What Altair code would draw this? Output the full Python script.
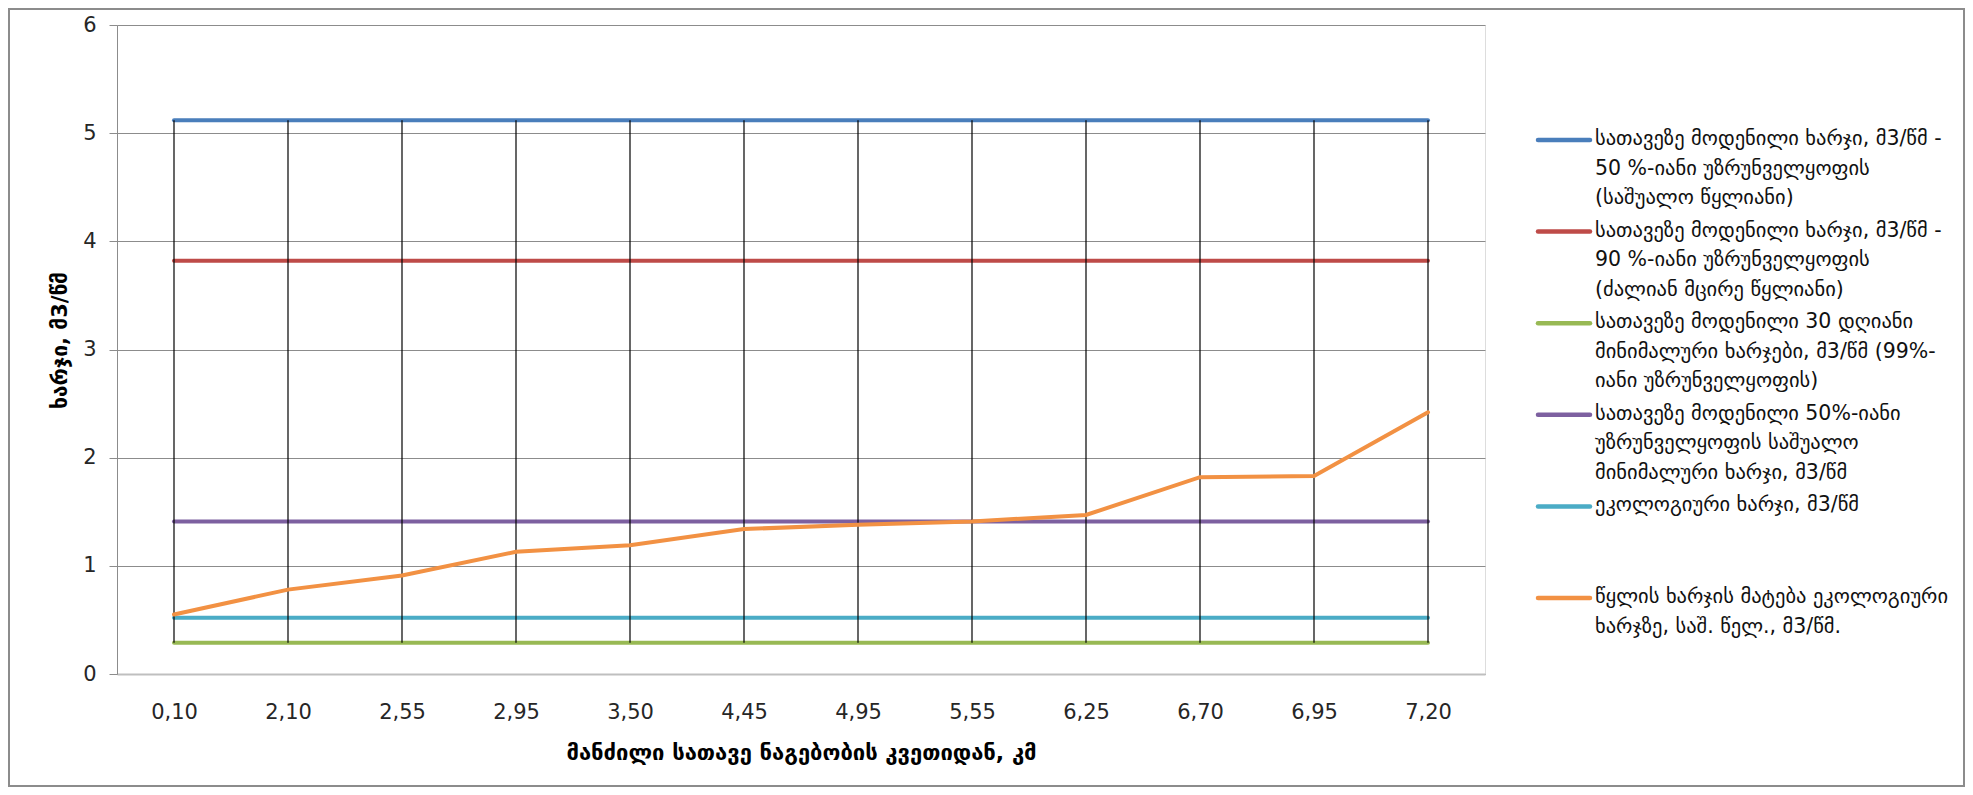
import altair as alt
import pandas as pd

# ---- data ----
categories = ["0,10", "2,10", "2,55", "2,95", "3,50", "4,45",
              "4,95", "5,55", "6,25", "6,70", "6,95", "7,20"]

series_names = [
    "სათავეზე მოდენილი ხარჯი, მ3/წმ -|50 %-იანი უზრუნველყოფის|(საშუალო წყლიანი)",
    "სათავეზე მოდენილი ხარჯი, მ3/წმ -|90 %-იანი უზრუნველყოფის|(ძალიან მცირე წყლიანი)",
    "სათავეზე მოდენილი 30 დღიანი|მინიმალური ხარჯები, მ3/წმ (99%-|იანი უზრუნველყოფის)",
    "სათავეზე მოდენილი 50%-იანი|უზრუნველყოფის საშუალო|მინიმალური ხარჯი, მ3/წმ",
    "ეკოლოგიური  ხარჯი, მ3/წმ",
    "წყლის ხარჯის მატება ეკოლოგიური|ხარჯზე, საშ. წელ., მ3/წმ.",
]

flow_50 = [5.12, 5.12, 5.12, 5.12, 5.12, 5.12, 5.12, 5.12, 5.12, 5.12, 5.12, 5.12]
flow_90 = [3.82, 3.82, 3.82, 3.82, 3.82, 3.82, 3.82, 3.82, 3.82, 3.82, 3.82, 3.82]
min_30d = [0.29, 0.29, 0.29, 0.29, 0.29, 0.29, 0.29, 0.29, 0.29, 0.29, 0.29, 0.29]
min_50 = [1.41, 1.41, 1.41, 1.41, 1.41, 1.41, 1.41, 1.41, 1.41, 1.41, 1.41, 1.41]
eco = [0.52, 0.52, 0.52, 0.52, 0.52, 0.52, 0.52, 0.52, 0.52, 0.52, 0.52, 0.52]
increase = [0.55, 0.78, 0.91, 1.13, 1.19, 1.34, 1.38, 1.41, 1.47, 1.82, 1.83, 2.42]

colors = ["#4A7EBB", "#BE4B48", "#98B954", "#7D60A0", "#4BACC6", "#F29143"]

y_ticks = [0, 1, 2, 3, 4, 5, 6]
y_title = "ხარჯი, მ3/წმ"
x_title = "მანძილი სათავე ნაგებობის კვეთიდან, კმ"

# ---- tables ----
all_series = [flow_50, flow_90, min_30d, min_50, eco, increase]
rows = []
for name, vals in zip(series_names, all_series):
    for c, v in zip(categories, vals):
        rows.append({"category": c, "series": name, "value": v})
df = pd.DataFrame(rows)
legend_df = pd.DataFrame({"series": series_names})
frame_df = pd.DataFrame({"k": [0]})

FONT = "DejaVu Sans"

color_scale = alt.Scale(domain=series_names, range=colors)

x_enc = alt.X(
    "category:N", sort=categories,
    scale=alt.Scale(type="point", padding=0.5),
    axis=alt.Axis(
        title=x_title, labelAngle=0, ticks=False, grid=False,
        labelPadding=27, labelFont=FONT, labelFontSize=21, labelColor="#262626",
        domainColor="#BFBFBF", domainWidth=2,
        titleFont=FONT, titleFontSize=22, titleFontWeight="bold",
        titleColor="#000000", titlePadding=20,
    ),
)
y_scale = alt.Scale(domain=[0, 6], nice=False)
y_enc = alt.Y(
    "value:Q", scale=y_scale,
    axis=alt.Axis(
        title=y_title, values=y_ticks, format="d", grid=True,
        gridColor="#8C8C8C", gridWidth=1, domainColor="#8C8C8C",
        tickColor="#8C8C8C", tickSize=8, labelPadding=13,
        labelFont=FONT, labelFontSize=21, labelColor="#262626",
        titleFont=FONT, titleFontSize=21, titleFontWeight="bold",
        titleColor="#000000", titleX=-57, titleY=315, titleBaseline="middle",
        titleAlign="center", titleAngle=270,
    ),
)

base = alt.Chart(df)

const_lines = base.transform_filter(
    alt.datum.series != series_names[5]
).mark_line(strokeWidth=4, strokeCap="round").encode(
    x=x_enc, y=y_enc,
    color=alt.Color("series:N", scale=color_scale, legend=None),
    detail="series:N",
)

hilo = base.mark_rule(color="#000000", strokeWidth=1.2).encode(
    x=alt.X("category:N", sort=categories),
    y=alt.Y("min(value):Q", scale=y_scale),
    y2="max(value):Q",
)

orange_line = base.transform_filter(
    alt.datum.series == series_names[5]
).mark_line(strokeWidth=4, strokeCap="round").encode(
    x=alt.X("category:N", sort=categories),
    y=alt.Y("value:Q", scale=y_scale),
    color=alt.Color("series:N", scale=color_scale, legend=None),
)

main = alt.layer(const_lines, hilo, orange_line)

leg_y = alt.Y("series:N", sort=series_names,
              scale=alt.Scale(type="point", domain=series_names, range=[115, 573], padding=0),
              axis=None)
leg_sym = alt.Chart(legend_df).mark_rule(strokeWidth=4.5, strokeCap="round").encode(
    x=alt.value(1421), x2=alt.value(1473), y=leg_y,
    color=alt.Color("series:N", scale=color_scale, legend=None),
)
leg_txt = alt.Chart(legend_df).mark_text(
    align="left", baseline="top", dy=-11, font=FONT, fontSize=20.5,
    lineHeight=29.5, lineBreak="|", color="#111111",
).encode(x=alt.value(1478), y=leg_y, text="series:N")
legend = alt.layer(leg_sym, leg_txt)

frame = alt.Chart(frame_df).mark_rect(filled=False, stroke="#8C8C8C", strokeWidth=2).encode(
    x=alt.value(-108), x2=alt.value(1847), y=alt.value(-16), y2=alt.value(761),
)

chart = alt.layer(main, legend, frame).resolve_scale(y="independent").properties(
    width=1368, height=649,
    autosize=alt.AutoSizeParams(type="none"),
    padding={"left": 109, "top": 17, "right": 480, "bottom": 113},
).configure_view(stroke=None).configure(background="white")

chart.save("out.html", embed_options={"renderer": "svg", "actions": False})
